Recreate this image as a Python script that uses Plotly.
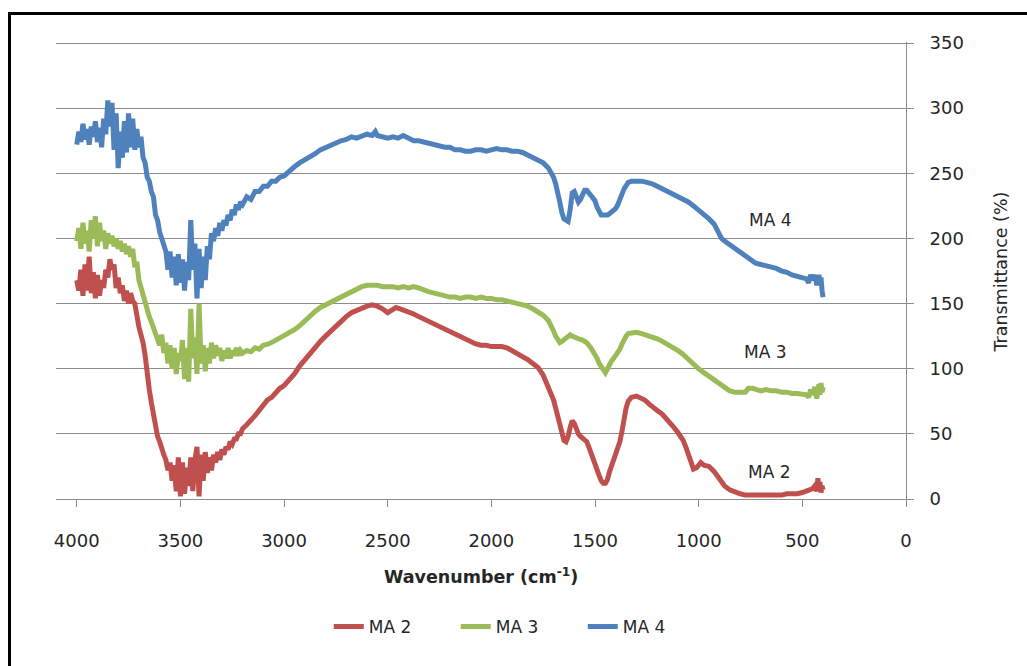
import plotly.graph_objects as go

# FTIR spectra: wavenumber (cm-1) and transmittance (%) for each sample
ma2_wn = [4000, 3990, 3980, 3970, 3960, 3950, 3940, 3930, 3920, 3910, 3900, 3890, 3880, 3870, 3860, 3850,
          3840, 3830, 3820, 3810, 3800, 3790, 3780, 3770, 3760, 3750, 3740, 3730, 3720, 3710, 3700, 3690,
          3680, 3670, 3660, 3650, 3640, 3630, 3620, 3610, 3600, 3590, 3580, 3570, 3560, 3550, 3540, 3530,
          3520, 3510, 3500, 3490, 3480, 3470, 3460, 3450, 3440, 3430, 3420, 3410, 3400, 3390, 3380, 3370,
          3360, 3350, 3340, 3330, 3320, 3310, 3300, 3290, 3280, 3270, 3260, 3250, 3240, 3230, 3220, 3210,
          3200, 3180, 3160, 3140, 3120, 3100, 3080, 3060, 3040, 3020, 3000, 2975, 2950, 2925, 2900, 2875,
          2850, 2825, 2800, 2775, 2750, 2725, 2700, 2675, 2650, 2625, 2600, 2575, 2550, 2525, 2500, 2480,
          2460, 2440, 2420, 2400, 2375, 2350, 2325, 2300, 2275, 2250, 2225, 2200, 2175, 2150, 2125, 2100,
          2075, 2050, 2025, 2000, 1975, 1950, 1925, 1900, 1875, 1850, 1825, 1800, 1775, 1750, 1725, 1700,
          1690, 1680, 1670, 1660, 1650, 1640, 1630, 1620, 1610, 1600, 1590, 1580, 1570, 1560, 1550, 1540,
          1530, 1520, 1510, 1500, 1490, 1480, 1470, 1460, 1450, 1440, 1430, 1420, 1410, 1400, 1390, 1380,
          1370, 1360, 1350, 1340, 1325, 1300, 1280, 1260, 1240, 1220, 1200, 1175, 1150, 1125, 1100, 1075,
          1060, 1050, 1040, 1025, 1010, 1000, 990, 975, 950, 925, 900, 875, 850, 825, 800, 775,
          750, 700, 650, 600, 575, 550, 525, 500, 480, 460, 450, 440, 430, 425, 420, 415,
          410, 405, 400]
ma2_t = [168, 160, 176, 156, 180, 160, 186, 158, 174, 154, 172, 156, 168, 162, 176, 170,
         184, 176, 180, 162, 170, 158, 164, 152, 160, 150, 158, 152, 150, 138, 132, 126,
         120, 110, 94, 84, 74, 64, 56, 48, 44, 38, 34, 30, 22, 28, 14, 26,
         6, 32, 2, 28, 4, 24, 10, 32, 6, 30, 40, 2, 34, 14, 36, 20,
         32, 22, 34, 28, 36, 30, 38, 34, 40, 38, 44, 42, 46, 46, 50, 50,
         54, 57, 60, 64, 68, 72, 76, 78, 82, 85, 87, 91, 96, 102, 107, 112,
         117, 121, 125, 129, 132, 136, 140, 143, 145, 147, 148, 149, 148, 146, 143, 145,
         147, 146, 145, 144, 142, 140, 138, 137, 135, 133, 131, 129, 127, 125, 122, 120,
         119, 118, 118, 117, 117, 117, 116, 114, 112, 110, 107, 104, 101, 95, 86, 76,
         70, 64, 57, 50, 45, 44, 48, 55, 60, 58, 53, 50, 48, 47, 45, 44,
         40, 35, 30, 26, 22, 18, 14, 12, 12, 15, 21, 26, 30, 33, 38, 44,
         52, 62, 70, 75, 78, 79, 78, 76, 73, 71, 68, 65, 61, 56, 51, 45,
         39, 34, 28, 23, 24, 27, 28, 26, 25, 21, 15, 10, 7, 5, 4, 3,
         3, 3, 3, 3, 4, 4, 4, 5, 6, 7, 8, 10, 6, 16, 9, 13,
         5, 10, 7]

ma3_wn = [4000, 3990, 3980, 3970, 3960, 3950, 3940, 3930, 3920, 3910, 3900, 3890, 3880, 3870, 3860, 3850,
          3840, 3830, 3820, 3810, 3800, 3790, 3780, 3770, 3760, 3750, 3740, 3730, 3720, 3710, 3700, 3690,
          3680, 3670, 3660, 3650, 3640, 3630, 3620, 3610, 3600, 3590, 3580, 3570, 3560, 3550, 3540, 3530,
          3520, 3510, 3500, 3490, 3480, 3470, 3460, 3450, 3440, 3430, 3420, 3410, 3400, 3390, 3380, 3370,
          3360, 3350, 3340, 3330, 3320, 3310, 3300, 3290, 3280, 3270, 3260, 3250, 3240, 3230, 3220, 3210,
          3200, 3180, 3160, 3140, 3120, 3100, 3075, 3050, 3025, 3000, 2975, 2950, 2925, 2900, 2875, 2850,
          2825, 2800, 2775, 2750, 2725, 2700, 2675, 2650, 2625, 2600, 2575, 2550, 2525, 2500, 2475, 2450,
          2425, 2400, 2375, 2350, 2325, 2300, 2275, 2250, 2225, 2200, 2175, 2150, 2125, 2100, 2075, 2050,
          2025, 2000, 1975, 1950, 1925, 1900, 1875, 1850, 1825, 1800, 1775, 1750, 1725, 1710, 1700, 1690,
          1680, 1670, 1660, 1650, 1640, 1630, 1620, 1610, 1600, 1580, 1560, 1540, 1520, 1500, 1490, 1480,
          1470, 1460, 1450, 1440, 1430, 1420, 1410, 1400, 1390, 1380, 1370, 1360, 1350, 1340, 1320, 1300,
          1275, 1250, 1225, 1200, 1175, 1150, 1125, 1100, 1075, 1050, 1025, 1000, 975, 950, 925, 900,
          875, 850, 825, 800, 775, 760, 740, 720, 700, 675, 650, 625, 600, 575, 550, 525,
          500, 480, 470, 460, 450, 440, 430, 420, 415, 410, 405, 400]
ma3_t = [198, 208, 192, 212, 196, 206, 190, 214, 200, 217, 194, 212, 198, 206, 192, 204,
         196, 202, 194, 200, 192, 198, 190, 196, 188, 194, 186, 192, 178, 182, 168, 162,
         158, 152, 146, 140, 136, 132, 128, 124, 118, 126, 112, 120, 104, 118, 100, 116,
         96, 112, 106, 122, 92, 116, 90, 146, 108, 124, 96, 150, 104, 118, 98, 116,
         104, 120, 108, 118, 110, 116, 106, 114, 108, 116, 108, 114, 110, 116, 110, 114,
         112, 114, 113, 116, 115, 118, 119, 121, 123, 125, 127, 130, 133, 137, 141, 144,
         147, 149, 151, 153, 156, 158, 160, 162, 163, 164, 164, 164, 163, 163, 163, 162,
         163, 162, 163, 162, 160, 159, 158, 157, 156, 155, 155, 154, 155, 155, 154, 155,
         154, 154, 153, 153, 152, 151, 150, 149, 148, 146, 144, 141, 137, 133, 129, 125,
         122, 120, 121, 122, 123, 125, 126, 125, 124, 123, 122, 120, 116, 111, 108, 104,
         101, 98, 97, 100, 104, 106, 108, 110, 112, 115, 119, 123, 125, 127, 128, 128,
         127, 126, 124, 123, 121, 119, 117, 114, 111, 107, 103, 100, 97, 94, 91, 88,
         85, 83, 82, 82, 82, 85, 85, 84, 83, 84, 83, 83, 82, 82, 81, 81,
         80, 80, 78, 84, 80, 86, 77, 88, 80, 89, 82, 86]

ma4_wn = [4000, 3990, 3980, 3970, 3960, 3950, 3940, 3930, 3920, 3910, 3900, 3890, 3880, 3870, 3860, 3850,
          3840, 3830, 3820, 3810, 3800, 3790, 3780, 3770, 3760, 3750, 3740, 3730, 3720, 3710, 3700, 3690,
          3680, 3670, 3660, 3650, 3640, 3630, 3620, 3610, 3600, 3590, 3580, 3570, 3560, 3550, 3540, 3530,
          3520, 3510, 3500, 3490, 3480, 3470, 3460, 3450, 3440, 3430, 3420, 3410, 3400, 3390, 3380, 3370,
          3360, 3350, 3340, 3330, 3320, 3310, 3300, 3290, 3280, 3270, 3260, 3250, 3240, 3230, 3220, 3210,
          3200, 3180, 3160, 3140, 3120, 3100, 3080, 3060, 3040, 3020, 3000, 2975, 2950, 2925, 2900, 2875,
          2850, 2825, 2800, 2775, 2750, 2725, 2700, 2675, 2650, 2625, 2600, 2575, 2560, 2550, 2525, 2500,
          2475, 2450, 2425, 2400, 2375, 2350, 2325, 2300, 2275, 2250, 2225, 2200, 2175, 2150, 2125, 2100,
          2075, 2050, 2025, 2000, 1975, 1950, 1925, 1900, 1875, 1850, 1825, 1800, 1775, 1750, 1725, 1700,
          1690, 1680, 1670, 1660, 1650, 1640, 1630, 1620, 1610, 1600, 1590, 1580, 1570, 1560, 1550, 1540,
          1530, 1520, 1510, 1500, 1490, 1480, 1470, 1460, 1450, 1440, 1430, 1420, 1410, 1400, 1390, 1380,
          1370, 1360, 1350, 1340, 1325, 1300, 1275, 1250, 1225, 1200, 1175, 1150, 1125, 1100, 1075, 1050,
          1025, 1000, 975, 950, 925, 900, 890, 875, 850, 825, 800, 775, 750, 725, 700, 675,
          650, 625, 600, 575, 550, 525, 500, 480, 470, 460, 450, 440, 430, 420, 415, 410,
          405, 400]
ma4_t = [272, 282, 274, 288, 276, 284, 272, 286, 278, 290, 274, 285, 270, 292, 280, 306,
         286, 304, 268, 296, 254, 282, 262, 290, 266, 296, 270, 292, 268, 284, 270, 278,
         262, 258, 247, 244, 236, 232, 218, 214, 205, 200, 192, 190, 176, 190, 170, 186,
         164, 188, 166, 184, 160, 182, 168, 214, 176, 196, 154, 192, 162, 186, 168, 194,
         184, 204, 198, 208, 202, 212, 206, 214, 210, 218, 214, 222, 218, 226, 222, 228,
         226, 232, 230, 236, 236, 240, 240, 244, 244, 247, 248, 252, 255, 258, 260, 262,
         265, 268, 270, 272, 273, 275, 276, 278, 277, 279, 280, 279, 282, 279, 278, 277,
         278, 277, 279, 277, 275, 275, 274, 273, 272, 271, 270, 270, 268, 268, 267, 267,
         268, 268, 267, 268, 269, 268, 268, 267, 267, 266, 264, 262, 261, 258, 254, 247,
         242, 236, 228, 220, 215, 214, 213, 222, 235, 236, 232, 228, 230, 234, 237, 237,
         235, 233, 231, 229, 224, 220, 218, 218, 218, 218, 219, 220, 221, 223, 226, 229,
         234, 238, 241, 243, 244, 244, 244, 243, 242, 240, 238, 237, 235, 233, 230, 228,
         225, 222, 219, 215, 211, 204, 200, 198, 195, 192, 189, 186, 183, 181, 180, 179,
         178, 177, 175, 174, 172, 171, 170, 169, 166, 172, 168, 172, 164, 172, 166, 170,
         160, 155]

series = [
    ("MA 2", ma2_wn, ma2_t, "#C0504D"),
    ("MA 3", ma3_wn, ma3_t, "#9BBB59"),
    ("MA 4", ma4_wn, ma4_t, "#4F81BD"),
]

# In-plot sample labels (wavenumber, transmittance)
label_text = ["MA 4", "MA 3", "MA 2"]
label_x = [653, 677, 658]
label_y = [214, 113, 21]

x_ticks = [4000, 3500, 3000, 2500, 2000, 1500, 1000, 500, 0]
y_ticks = [0, 50, 100, 150, 200, 250, 300, 350]

FONT = "DejaVu Sans"
TXT = "#262626"
GRID = "#8C8C8C"

fig = go.Figure()
for name, wn, t, color in series:
    fig.add_trace(go.Scatter(x=wn, y=t, mode="lines", name=name,
                             line=dict(color=color, width=5)))

for txt, lx, ly in zip(label_text, label_x, label_y):
    fig.add_annotation(x=lx, y=ly, text=txt, showarrow=False,
                       font=dict(family=FONT, size=17, color=TXT))

# Axis titles
fig.add_annotation(xref="paper", yref="paper", x=0.5, y=-0.169,
                   text="<b>Wavenumber (cm<sup>-1</sup>)</b>", showarrow=False,
                   font=dict(family=FONT, size=17.5, color=TXT), yanchor="middle")
fig.add_annotation(xref="paper", yref="paper", x=1.112, y=0.496,
                   text="Transmittance (%)", showarrow=False, textangle=-90,
                   font=dict(family=FONT, size=17.5, color=TXT), xanchor="center")

# Outer frame
fig.add_shape(type="rect", xref="paper", yref="paper",
              x0=-0.0547, x1=1.16, y0=-0.40, y1=1.0625,
              line=dict(color="black", width=3), fillcolor="rgba(0,0,0,0)")

fig.update_layout(
    width=1027, height=666,
    margin=dict(l=56, r=121, t=42, b=167),
    paper_bgcolor="white", plot_bgcolor="white",
    font=dict(family=FONT, size=18, color=TXT),
    showlegend=True,
    legend=dict(orientation="h", x=0.545, y=-0.28, xanchor="center", yanchor="middle",
                font=dict(family=FONT, size=17, color=TXT),
                entrywidth=82, entrywidthmode="pixels", bgcolor="rgba(0,0,0,0)"),
    xaxis=dict(range=[4100, 0], tickvals=x_ticks, ticktext=[str(v) for v in x_ticks],
               showgrid=False, zeroline=False, showline=True, linecolor=GRID, linewidth=1,
               ticks="outside", ticklen=7, tickcolor=GRID, ticklabelstandoff=18,
               tickfont=dict(family=FONT, size=18, color=TXT)),
    yaxis=dict(range=[0, 350.8], tickvals=y_ticks, side="right",
               showgrid=True, gridcolor=GRID, gridwidth=1, zeroline=False,
               showline=True, linecolor=GRID, linewidth=1,
               ticks="outside", ticklen=7, tickcolor=GRID, ticklabelstandoff=12,
               tickfont=dict(family=FONT, size=18, color=TXT)),
)

fig.write_html("out.html")
